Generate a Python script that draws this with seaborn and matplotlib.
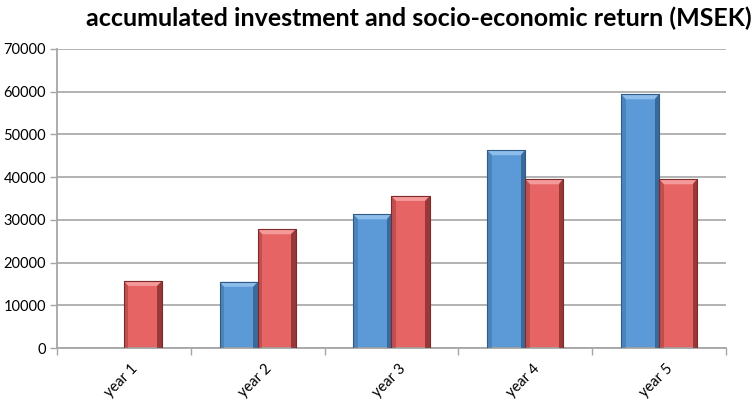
import matplotlib
matplotlib.use("Agg")
import matplotlib.pyplot as plt
from matplotlib.patches import Polygon
import seaborn as sns
import pandas as pd
import numpy as np

categories = ["year 1", "year 2", "year 3", "year 4", "year 5"]
investment = [0, 15500, 31300, 46300, 59400]
socio_return = [15700, 27800, 35600, 39500, 39500]
series_names = ["accumulated investment", "socio-economic return"]
yticks = [0, 10000, 20000, 30000, 40000, 50000, 60000, 70000]

df = pd.DataFrame({
    "year": categories * 2,
    "value": investment + socio_return,
    "series": [series_names[0]] * len(categories) + [series_names[1]] * len(categories),
})

sns.set_theme(style="white")
plt.rcParams["font.family"] = ["Lato", "DejaVu Sans"]

fig = plt.figure(figsize=(7.56, 4.11), dpi=100)
ax = fig.add_axes([57 / 756, 1 - 348 / 411, (726 - 57) / 756, (348 - 49) / 411])

main_cols = {series_names[0]: "#5B9AD6", series_names[1]: "#E76465"}
dark_cols = {series_names[0]: "#2F5B86", series_names[1]: "#7E2A2A"}
light_cols = {series_names[0]: "#8DBDEB", series_names[1]: "#F59A9A"}

sns.barplot(data=df, x="year", y="value", hue="series", order=categories,
            hue_order=series_names, palette=main_cols, width=0.57, gap=0,
            dodge=True, legend=False, ax=ax, saturation=1, edgecolor="none")

# bevel effect derived from each drawn bar
n = len(categories)
px_y = (yticks[-1] - yticks[0]) / 299.0
bx = 0.034
by = 5 * px_y
for i, patch in enumerate(ax.patches):
    h = patch.get_height()
    if h <= 0:
        continue
    s = series_names[i // n]
    x0, y0 = patch.get_x(), patch.get_y()
    w = patch.get_width()
    x1, y1 = x0 + w, y0 + h
    top = Polygon([[x0, y1], [x1, y1], [x1 - bx, y1 - by], [x0 + bx, y1 - by]],
                  closed=True, facecolor=light_cols[s], edgecolor="none", zorder=3)
    right = Polygon([[x1, y1], [x1, y0], [x1 - bx, y0], [x1 - bx, y1 - by]],
                    closed=True, facecolor=dark_cols[s], edgecolor="none", zorder=3, alpha=0.75)
    left = Polygon([[x0, y1], [x0, y0], [x0 + bx, y0], [x0 + bx, y1 - by]],
                   closed=True, facecolor=dark_cols[s], edgecolor="none", zorder=3, alpha=0.35)
    ax.add_patch(top)
    ax.add_patch(right)
    ax.add_patch(left)
    ax.plot([x0, x1, x1, x0, x0], [y0, y0, y1, y1, y0], color=dark_cols[s], lw=0.8, zorder=4)

ax.set_ylim(0, 70000)
ax.set_xlim(-0.5, n - 0.5)
ax.set_yticks(yticks)
ax.set_yticklabels([str(v) for v in yticks], fontsize=10.5, color="black")
ax.yaxis.grid(True, color="#A6A6A6", linewidth=1.2)
ax.set_axisbelow(True)

ax.set_xticks(np.arange(-0.5, n, 1.0))
ax.set_xticklabels([])
ax.set_xticks(np.arange(n), minor=True)
ax.set_xticklabels(categories, minor=True, rotation=45, ha="right",
                   rotation_mode="anchor", fontsize=10.5, color="black")
ax.tick_params(axis="x", which="major", length=5, width=1, color="#A6A6A6", direction="out", bottom=True)
ax.tick_params(axis="x", which="minor", length=0, pad=10)
ax.tick_params(axis="y", which="major", length=5, width=1, color="#A6A6A6", left=True, pad=3)
for lab in ax.get_xticklabels(minor=True):
    lab.set_transform(lab.get_transform() + matplotlib.transforms.ScaledTranslation(7 / 100, 0, fig.dpi_scale_trans))

ax.set_xlabel("")
ax.set_ylabel("")
for side in ["top", "right"]:
    ax.spines[side].set_visible(False)
for side in ["left", "bottom"]:
    ax.spines[side].set_color("#A6A6A6")
    ax.spines[side].set_linewidth(1.3)

fig.text(419 / 756, 1 - 18 / 411, "accumulated investment and socio-economic return (MSEK)",
         ha="center", va="center", fontsize=18, fontweight="bold", color="black")

fig.savefig("out.png", dpi=100)
